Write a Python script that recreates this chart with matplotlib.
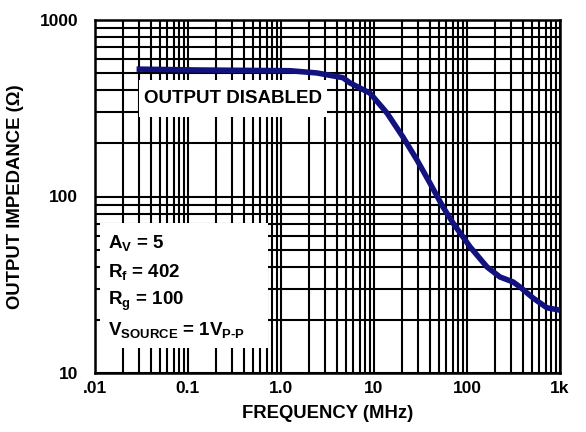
import matplotlib
matplotlib.use("Agg")
import matplotlib.pyplot as plt
from matplotlib.patches import Rectangle
from matplotlib.ticker import FixedLocator, LogLocator, NullFormatter

plt.rcParams["font.family"] = ["Liberation Sans", "DejaVu Sans"]
plt.rcParams["font.weight"] = "bold"
plt.rcParams["mathtext.fontset"] = "custom"
plt.rcParams["mathtext.rm"] = "Liberation Sans:bold"
plt.rcParams["mathtext.bf"] = "Liberation Sans:bold"
plt.rcParams["mathtext.it"] = "Liberation Sans:bold"

# Output impedance vs. frequency, output disabled
freq_mhz = [0.028, 0.125, 1.25, 2.44, 4.64, 5.52, 9.06, 13.8, 20.5, 29.0,
            40.0, 55.2, 70.7, 108, 164, 226, 313, 372, 513, 725, 1000]
impedance_ohm = [527, 521, 516, 501, 471, 440, 385, 297, 217, 161,
                 119, 87.2, 70.8, 51.8, 39.9, 35.0, 32.8, 30.7, 26.6, 23.4, 22.7]

x_ticks = [0.01, 0.1, 1, 10, 100, 1000]
x_tick_labels = [".01", "0.1", "1.0", "10", "100", "1k"]
y_ticks = [10, 100, 1000]
y_tick_labels = ["10", "100", "1000"]

conditions = [r"A$_{\mathrm{V}}$ = 5",
              r"R$_{\mathrm{f}}$ = 402",
              r"R$_{\mathrm{g}}$ = 100",
              r"V$_{\mathrm{SOURCE}}$ = 1V$_{\mathrm{P\text{-}P}}$"]

fig = plt.figure(figsize=(5.86, 4.32), dpi=100)
ax = fig.add_axes([95 / 586, 59 / 432, 465 / 586, 353 / 432])
ax.set_xscale("log")
ax.set_yscale("log")
ax.set_xlim(0.01, 1000)
ax.set_ylim(10, 1000)

ax.xaxis.set_major_locator(FixedLocator(x_ticks))
ax.yaxis.set_major_locator(FixedLocator(y_ticks))
ax.xaxis.set_minor_locator(LogLocator(base=10, subs=range(2, 10)))
ax.yaxis.set_minor_locator(LogLocator(base=10, subs=range(2, 10)))
ax.xaxis.set_minor_formatter(NullFormatter())
ax.yaxis.set_minor_formatter(NullFormatter())
ax.set_xticklabels(x_tick_labels)
ax.set_yticklabels(y_tick_labels)
ax.tick_params(which="both", length=0, labelsize=12.5)
ax.tick_params(axis="y", pad=12)
ax.tick_params(axis="x", pad=6)

ax.set_axisbelow(True)
ax.grid(True, which="both", color="black", linewidth=1.5)
for s in ax.spines.values():
    s.set_linewidth(1.8)

ax.plot(freq_mhz, impedance_ohm, color="#12127e", linewidth=4.0,
        solid_capstyle="butt", zorder=3)

# white label panels over the grid
ax.add_patch(Rectangle((0.0946, 0.725), 0.404, 0.105, transform=ax.transAxes,
                       facecolor="white", edgecolor="none", zorder=1))
ax.text(0.105, 0.777, "OUTPUT DISABLED", transform=ax.transAxes,
        fontsize=13.5, fontweight="bold", va="center", ha="left", zorder=4)

ax.add_patch(Rectangle((0.011, 0.071), 0.361, 0.354, transform=ax.transAxes,
                       facecolor="white", edgecolor="none", zorder=1))
for i, line in enumerate(conditions):
    ax.text(0.028, 0.368 - i * 0.082, line, transform=ax.transAxes,
            fontsize=13.5, va="center", ha="left", zorder=4)

ax.set_xlabel("FREQUENCY (MHz)", fontsize=13.3, fontweight="bold", labelpad=6)
ax.set_ylabel("OUTPUT IMPEDANCE (\u03a9)", fontsize=13.3, fontweight="bold")
ax.yaxis.set_label_coords(-(95 - 24) / 465, 0.5)

fig.savefig("out.png", dpi=100)
